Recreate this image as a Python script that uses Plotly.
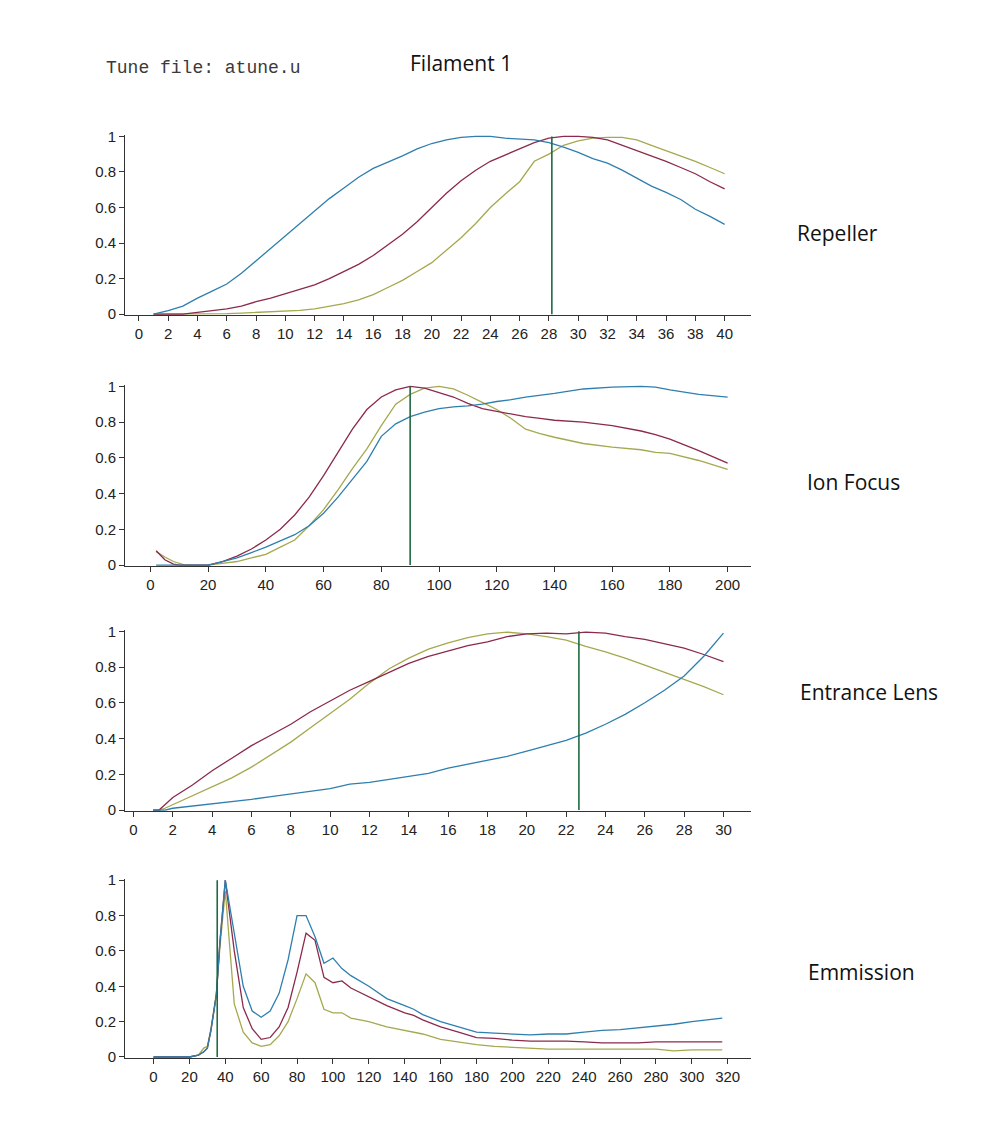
import plotly.graph_objects as go

# ---------------- data ----------------
# Repeller
rep_x = list(range(1, 41))
rep_blue = [0.0, 0.02, 0.045, 0.09, 0.13, 0.17, 0.23, 0.30, 0.37, 0.44, 0.51, 0.58, 0.65, 0.71, 0.77,
            0.82, 0.855, 0.89, 0.93, 0.96, 0.98, 0.995, 1.0, 1.0, 0.99, 0.985, 0.98, 0.965, 0.94, 0.91,
            0.875, 0.85, 0.81, 0.765, 0.72, 0.685, 0.645, 0.59, 0.55, 0.505]
rep_red = [0.0, 0.0, 0.0, 0.01, 0.02, 0.03, 0.045, 0.07, 0.09, 0.115, 0.14, 0.165, 0.2, 0.24, 0.28,
           0.33, 0.39, 0.45, 0.52, 0.60, 0.68, 0.75, 0.81, 0.86, 0.895, 0.93, 0.965, 0.99, 1.0, 1.0,
           0.995, 0.98, 0.95, 0.92, 0.89, 0.86, 0.825, 0.79, 0.745, 0.705]
rep_yellow = [0.0, 0.0, 0.0, 0.0, 0.0, 0.003, 0.006, 0.01, 0.012, 0.015, 0.022, 0.03, 0.045, 0.06, 0.08,
              0.11, 0.15, 0.19, 0.24, 0.29, 0.36, 0.43, 0.51, 0.60, 0.675, 0.745, 0.86, 0.90, 0.95, 0.975,
              0.99, 0.995, 0.995, 0.98, 0.95, 0.92, 0.89, 0.86, 0.825, 0.79]

# Ion Focus
ion_x = [2, 5, 8, 10, 12, 15, 20, 25, 30, 35, 40, 45, 50, 55, 60, 65, 70, 75, 80, 85, 90, 95, 100,
         105, 110, 115, 120, 125, 130, 135, 140, 150, 160, 170, 175, 180, 190, 200]
ion_blue = [0.0, 0.0, 0.0, 0.0, 0.0, 0.0, 0.0, 0.02, 0.04, 0.07, 0.10, 0.135, 0.17, 0.22, 0.29, 0.38,
            0.48, 0.58, 0.72, 0.79, 0.83, 0.855, 0.875, 0.885, 0.89, 0.9, 0.915, 0.925, 0.94, 0.95,
            0.96, 0.985, 0.995, 1.0, 0.995, 0.98, 0.955, 0.94]
ion_red = [0.08, 0.03, 0.005, 0.0, 0.0, 0.0, 0.0, 0.02, 0.05, 0.09, 0.14, 0.2, 0.28, 0.38, 0.50, 0.63,
           0.76, 0.87, 0.94, 0.98, 1.0, 0.99, 0.965, 0.94, 0.905, 0.875, 0.86, 0.845, 0.83, 0.82,
           0.81, 0.8, 0.78, 0.75, 0.73, 0.705, 0.64, 0.57]
ion_yellow = [0.075, 0.045, 0.02, 0.008, 0.0, 0.0, 0.0, 0.01, 0.02, 0.04, 0.06, 0.1, 0.14, 0.22, 0.31,
              0.42, 0.54, 0.65, 0.78, 0.9, 0.955, 0.99, 1.0, 0.985, 0.95, 0.91, 0.87, 0.82, 0.76,
              0.735, 0.715, 0.68, 0.66, 0.645, 0.63, 0.625, 0.585, 0.535]

# Entrance Lens
ent_x = [1, 1.3, 1.6, 2, 3, 4, 5, 6, 7, 8, 9, 10, 11, 12, 13, 14, 15, 16, 17, 18, 19, 20, 21, 22, 23,
         24, 25, 26, 27, 28, 29, 30]
ent_blue = [0.0, 0.0, 0.0, 0.01, 0.022, 0.035, 0.047, 0.06, 0.075, 0.09, 0.105, 0.12, 0.145, 0.155,
            0.172, 0.19, 0.205, 0.235, 0.258, 0.28, 0.30, 0.33, 0.36, 0.39, 0.43, 0.48, 0.535, 0.6,
            0.67, 0.75, 0.86, 0.99]
ent_red = [0.0, 0.0, 0.03, 0.07, 0.14, 0.22, 0.29, 0.36, 0.42, 0.48, 0.55, 0.61, 0.67, 0.72, 0.77,
           0.82, 0.86, 0.89, 0.92, 0.94, 0.97, 0.985, 0.99, 0.985, 0.995, 0.99, 0.97, 0.955, 0.93,
           0.905, 0.87, 0.83]
ent_yellow = [0.0, 0.0, 0.01, 0.03, 0.08, 0.13, 0.18, 0.24, 0.31, 0.38, 0.46, 0.54, 0.62, 0.71, 0.79,
              0.85, 0.9, 0.935, 0.965, 0.985, 0.995, 0.985, 0.97, 0.95, 0.915, 0.885, 0.85, 0.81,
              0.77, 0.73, 0.69, 0.645]

# Emmission
emi_x = [0, 10, 20, 25, 28, 30, 32, 35, 37, 40, 45, 50, 55, 60, 65, 70, 75, 80, 85, 90, 95, 100,
         105, 110, 120, 130, 140, 145, 150, 160, 170, 180, 190, 200, 210, 220, 230, 240, 250, 260,
         270, 280, 290, 300, 310, 317]
emi_blue = [0.0, 0.0, 0.0, 0.01, 0.03, 0.05, 0.15, 0.35, 0.65, 1.0, 0.7, 0.4, 0.26, 0.225, 0.26,
            0.36, 0.55, 0.8, 0.8, 0.68, 0.53, 0.56, 0.5, 0.46, 0.4, 0.33, 0.29, 0.27, 0.24, 0.2, 0.17,
            0.14, 0.135, 0.13, 0.125, 0.13, 0.13, 0.14, 0.15, 0.155, 0.165, 0.175, 0.185, 0.2,
            0.21, 0.22]
emi_red = [0.0, 0.0, 0.0, 0.01, 0.03, 0.05, 0.15, 0.35, 0.65, 1.0, 0.6, 0.28, 0.16, 0.1, 0.11, 0.17,
           0.28, 0.48, 0.7, 0.66, 0.45, 0.42, 0.43, 0.39, 0.34, 0.29, 0.25, 0.235, 0.21, 0.17,
           0.14, 0.11, 0.105, 0.095, 0.09, 0.09, 0.09, 0.085, 0.08, 0.08, 0.08, 0.085, 0.085,
           0.085, 0.085, 0.085]
emi_yellow = [0.0, 0.0, 0.0, 0.01, 0.05, 0.06, 0.16, 0.36, 0.62, 0.94, 0.3, 0.14, 0.08, 0.06, 0.07,
              0.12, 0.2, 0.33, 0.47, 0.42, 0.27, 0.25, 0.25, 0.22, 0.2, 0.17, 0.15, 0.14, 0.13, 0.1,
              0.085, 0.07, 0.06, 0.055, 0.05, 0.045, 0.045, 0.045, 0.045, 0.045, 0.045, 0.045,
              0.035, 0.04, 0.04, 0.04]

panel_names = ["Repeller", "Ion Focus", "Entrance Lens", "Emmission"]
optimum_x = [28.2, 90, 22.65, 35.5]
x_dticks = [2, 20, 2, 20]
x_ranges = [[-0.95, 41.8], [-8.8, 208.1], [-0.43, 31.4], [-15.9, 333]]
y_ticks = [0, 0.2, 0.4, 0.6, 0.8, 1]

panels = [
    (rep_x, rep_blue, rep_red, rep_yellow),
    (ion_x, ion_blue, ion_red, ion_yellow),
    (ent_x, ent_blue, ent_red, ent_yellow),
    (emi_x, emi_blue, emi_red, emi_yellow),
]

# ---------------- layout geometry (pixels) ----------------
W, H = 1000, 1143
x_left_px, x_right_px = 125, 751
y_px = [(311, 131), (565, 384), (813, 632), (1063, 884)]  # (value 0, value 1)
label_pos = [(837, 229), (853, 481), (869, 694), (861, 977)]

BLUE = "#2f7fae"
RED = "#8c2a4c"
YELLOW = "#a6a84f"
GREEN = "#1f6a42"
AXIS = "#333333"
TICKFONT = dict(family="Liberation Sans Narrow, Liberation Sans, Arial", size=15, color="#222222")
LABELFONT = dict(family="Open Sans, Noto Sans", size=21, color="#111111")

fig = go.Figure()
ylo, yhi = -0.006, 1.008
for i, (xs, b, r, yl) in enumerate(panels):
    n = "" if i == 0 else str(i + 1)
    xa, ya = "x" + n, "y" + n
    for ys, col in ((yl, YELLOW), (r, RED), (b, BLUE)):
        fig.add_trace(go.Scatter(x=xs, y=ys, mode="lines", xaxis=xa, yaxis=ya,
                                 line=dict(color=col, width=1.3), showlegend=False,
                                 hoverinfo="skip"))
    fig.add_trace(go.Scatter(x=[optimum_x[i], optimum_x[i]], y=[0, 1], mode="lines",
                             xaxis=xa, yaxis=ya, line=dict(color=GREEN, width=1.6),
                             showlegend=False, hoverinfo="skip"))
    p0, p1 = y_px[i]
    hpx = p0 - p1
    bottom = p0 - ylo * hpx
    top = p1 - (yhi - 1) * hpx
    fig.layout["xaxis" + n] = dict(
        domain=[x_left_px / W, x_right_px / W], range=x_ranges[i], anchor=ya,
        dtick=x_dticks[i], tick0=0, showgrid=False, zeroline=False, showline=True,
        linecolor=AXIS, linewidth=1, ticks="outside", ticklen=5, tickcolor=AXIS,
        tickfont=TICKFONT)
    fig.layout["yaxis" + n] = dict(
        domain=[(H - bottom) / H, (H - top) / H], range=[ylo, yhi], anchor=xa,
        tickvals=y_ticks, ticktext=[("%g" % v) for v in y_ticks], showgrid=False,
        zeroline=False, showline=True, linecolor=AXIS, linewidth=1, ticks="outside",
        ticklen=5, tickcolor=AXIS, tickfont=TICKFONT)
    fig.add_annotation(text=panel_names[i], xref="paper", yref="paper",
                       x=label_pos[i][0] / W, y=(H - label_pos[i][1]) / H,
                       showarrow=False, xanchor="center", yanchor="middle",
                       font=LABELFONT)

fig.add_annotation(text="Tune file: atune.u", xref="paper", yref="paper",
                   x=104 / W, y=(H - 62) / H, showarrow=False, xanchor="left",
                   yanchor="middle",
                   font=dict(family="Liberation Mono, DejaVu Sans Mono", size=18, color="#3a3a3a"))
fig.add_annotation(text="Filament 1", xref="paper", yref="paper",
                   x=461 / W, y=(H - 57) / H, showarrow=False, xanchor="center",
                   yanchor="middle", font=LABELFONT)

fig.update_layout(width=W, height=H, margin=dict(l=0, r=0, t=0, b=0),
                  paper_bgcolor="white", plot_bgcolor="white", hovermode=False)
fig.write_html("out.html", config={"displayModeBar": False},
               post_script="document.body.style.margin='0';document.body.style.padding='0';"
                           "document.documentElement.style.overflow='hidden';")
